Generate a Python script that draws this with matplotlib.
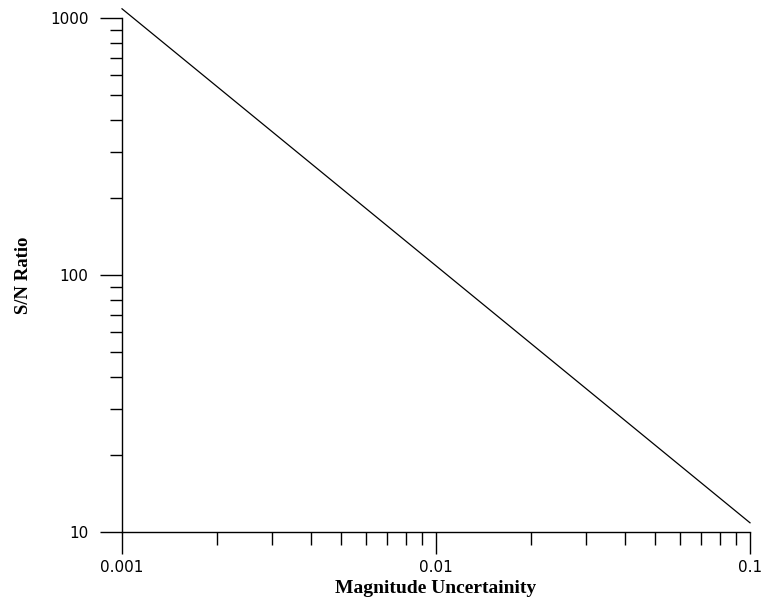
""" S/N ratio against magnitude uncertainty
"""

import matplotlib
matplotlib.use('Agg')
import matplotlib.pyplot as plt
from matplotlib.ticker import FixedLocator, FixedFormatter, NullFormatter

# values
mag_uncertainty = [0.001, 0.1]
sn_ratio = [1086, 10.86]

x_ticks = [0.001, 0.01, 0.1]
x_tick_labels = ['0.001', '0.01', '0.1']
y_ticks = [10, 100, 1000]
y_tick_labels = ['10', '100', '1000']


def main():
    out_dpi = 100
    fig = plt.figure(figsize=(769/out_dpi, 599/out_dpi), dpi=out_dpi)
    ax = fig.add_axes([122/769, 67/599, 628/769, 514/599])

    ax.plot(mag_uncertainty, sn_ratio, color='black', linewidth=0.9,
            clip_on=False)
    ax.set_xscale('log')
    ax.set_yscale('log')
    ax.set_xlim(0.001, 0.1)
    ax.set_ylim(10, 1000)

    for side in ('top', 'right'):
        ax.spines[side].set_visible(False)
    for side in ('left', 'bottom'):
        ax.spines[side].set_linewidth(1.0)

    ax.xaxis.set_major_locator(FixedLocator(x_ticks))
    ax.xaxis.set_major_formatter(FixedFormatter(x_tick_labels))
    ax.yaxis.set_major_locator(FixedLocator(y_ticks))
    ax.yaxis.set_major_formatter(FixedFormatter(y_tick_labels))
    ax.xaxis.set_minor_formatter(NullFormatter())
    ax.yaxis.set_minor_formatter(NullFormatter())

    ax.tick_params(which='major', direction='out', length=16, width=1.0,
                   labelsize=11, colors='black')
    ax.tick_params(axis='x', which='major', pad=4)
    ax.tick_params(axis='y', which='major', pad=8)
    ax.tick_params(which='minor', direction='out', length=9, width=1.0)

    ax.set_xlabel('Magnitude Uncertainity', family='Liberation Serif',
                  weight='bold', fontsize=14, labelpad=4)
    ax.set_ylabel('S/N Ratio', family='Liberation Serif',
                  weight='bold', fontsize=13.5, labelpad=13)

    plt.savefig('out.png', dpi=out_dpi)


if __name__ == '__main__':
    main()
